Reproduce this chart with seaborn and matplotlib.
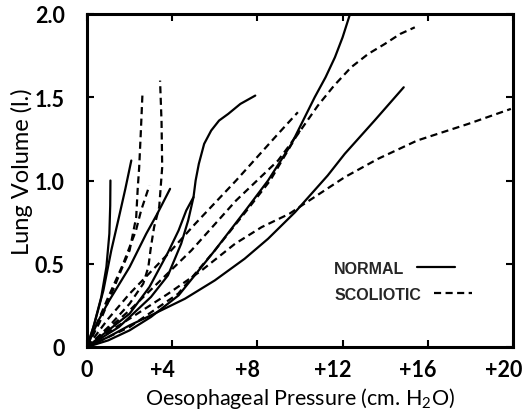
import matplotlib
matplotlib.use("Agg")
import matplotlib.pyplot as plt
from matplotlib.lines import Line2D
import matplotlib.transforms as mtransforms
import seaborn as sns
import pandas as pd

# ---- data: oesophageal pressure (cm H2O) vs lung volume (l.) ----
# Normal subjects (solid)
n1_p = [0, 0.3, 0.67, 0.91, 1.05, 1.09, 1.1]
n1_v = [0, 0.12, 0.30, 0.48, 0.68, 0.85, 1.0]
n2_p = [0, 0.35, 0.77, 1.14, 1.5, 1.8, 2.08]
n2_v = [0, 0.14, 0.34, 0.58, 0.78, 0.95, 1.12]
n3_p = [0, 0.5, 1.0, 2.0, 2.78, 3.3, 3.9]
n3_v = [0, 0.15, 0.27, 0.48, 0.68, 0.80, 0.95]
n4_p = [0, 1.0, 2.0, 2.93, 3.81, 4.3, 4.66, 5.0]
n4_v = [0, 0.10, 0.20, 0.36, 0.57, 0.70, 0.82, 0.90]
n5_p = [0, 1.5, 3.0, 3.8, 4.42, 4.75, 5.0, 5.1, 5.25, 5.5, 5.83, 6.2, 6.63, 7.2, 7.9]
n5_v = [0, 0.12, 0.30, 0.43, 0.62, 0.76, 0.90, 1.0, 1.1, 1.22, 1.30, 1.36, 1.40, 1.46, 1.51]
n6_p = [0, 1.0, 2.0, 3.0, 4.3, 6.0, 7.5, 8.5, 9.6, 10.69, 11.2, 11.64, 12.0, 12.35]
n6_v = [0, 0.04, 0.10, 0.18, 0.31, 0.58, 0.83, 1.0, 1.22, 1.50, 1.62, 1.74, 1.86, 2.0]
n7_p = [0, 1.0, 2.0, 3.0, 4.6, 6.0, 7.4, 8.5, 9.77, 11.3, 12.1, 13.5, 14.87]
n7_v = [0, 0.06, 0.13, 0.19, 0.29, 0.40, 0.53, 0.65, 0.81, 1.03, 1.16, 1.36, 1.56]

# Scoliotic patients (dashed)
s1_p = [0, 0.6, 1.28, 1.6, 2.0, 2.31, 2.38, 2.45, 2.53, 2.6]
s1_v = [0, 0.15, 0.36, 0.46, 0.58, 0.78, 0.95, 1.08, 1.30, 1.51]
s2_p = [0, 1.0, 2.0, 2.64, 2.88, 3.0, 3.15, 3.39, 3.53, 3.5, 3.43]
s2_v = [0, 0.12, 0.26, 0.38, 0.48, 0.60, 0.72, 0.84, 1.08, 1.35, 1.60]
s3_p = [0, 1.0, 1.7, 2.3, 2.54, 2.93]
s3_v = [0, 0.30, 0.50, 0.70, 0.82, 0.97]
s4_p = [0, 1.0, 2.0, 3.81, 5.08, 7.0, 8.97, 9.9]
s4_v = [0, 0.17, 0.32, 0.56, 0.74, 1.0, 1.28, 1.41]
s5_p = [0, 2.0, 4.9, 7.0, 8.97, 9.44, 10.0]
s5_v = [0, 0.22, 0.58, 0.88, 1.12, 1.20, 1.30]
s6_p = [0, 2.0, 4.28, 6.0, 7.5, 8.6, 9.8, 10.84, 11.6, 12.4, 13.2, 13.98, 14.7, 15.39]
s6_v = [0, 0.12, 0.32, 0.58, 0.82, 1.0, 1.26, 1.45, 1.57, 1.68, 1.76, 1.82, 1.88, 1.92]
s7_p = [0, 1.0, 2.0, 3.81, 5.38, 6.95, 8.2, 9.5, 10.2, 12.1, 13.66, 15.5, 17.9, 19.9]
s7_v = [0, 0.09, 0.17, 0.32, 0.46, 0.62, 0.72, 0.80, 0.86, 1.02, 1.13, 1.24, 1.34, 1.43]

x_ticks = [0, 4, 8, 12, 16, 20]
x_tick_labels = ["0", "+4", "+8", "+12", "+16", "+20"]
y_ticks = [0, 0.5, 1.0, 1.5, 2.0]
y_tick_labels = ["0", "0.5", "1.0", "1.5", "2.0"]
group_labels = ["NORMAL", "SCOLIOTIC"]

normal_curves = [(n1_p, n1_v), (n2_p, n2_v), (n3_p, n3_v), (n4_p, n4_v),
                 (n5_p, n5_v), (n6_p, n6_v), (n7_p, n7_v)]
scol_curves = [(s1_p, s1_v), (s2_p, s2_v), (s3_p, s3_v), (s4_p, s4_v),
               (s5_p, s5_v), (s6_p, s6_v), (s7_p, s7_v)]

rows = []
for i, (p, v) in enumerate(normal_curves):
    for a, b in zip(p, v):
        rows.append(dict(curve=f"N{i}", group="NORMAL", pressure=a, volume=b))
for i, (p, v) in enumerate(scol_curves):
    for a, b in zip(p, v):
        rows.append(dict(curve=f"S{i}", group="SCOLIOTIC", pressure=a, volume=b))
df = pd.DataFrame(rows)

sns.set_theme(style="ticks")
plt.rcParams["font.family"] = ["Lato", "DejaVu Sans"]
plt.rcParams["mathtext.fontset"] = "custom"
plt.rcParams["mathtext.rm"] = "Lato"

fig = plt.figure(figsize=(5.28, 4.10), dpi=100)
ax = fig.add_axes([87 / 528, 62 / 410, 426 / 528, 333 / 410])

dash_pat = (3.2, 2.0)
sns.lineplot(data=df, x="pressure", y="volume", units="curve", style="group",
             estimator=None, sort=False, color="black", lw=1.6,
             dashes={"NORMAL": "", "SCOLIOTIC": dash_pat}, legend=False, ax=ax)

ax.set_xlim(0, 20)
ax.set_ylim(0, 2.0)
ax.set_xticks(x_ticks)
ax.set_xticklabels(x_tick_labels, fontsize=15.5, fontweight="bold")
ax.set_yticks(y_ticks)
ax.set_yticklabels(y_tick_labels, fontsize=15.5, fontweight="bold")
ax.tick_params(direction="in", length=5, width=1.5, top=True, right=True,
               color="black", labelcolor="black")
ax.tick_params(axis="x", pad=9)
ax.tick_params(axis="y", pad=16)
# the leading "+" hangs to the left of the tick, digits centred on it
for lab in ax.get_xticklabels():
    if lab.get_text().startswith("+"):
        lab.set_transform(lab.get_transform() +
                          mtransforms.ScaledTranslation(-7 / 72, 0, fig.dpi_scale_trans))
for s in ax.spines.values():
    s.set_linewidth(2.2)
    s.set_color("black")
    s.set_visible(True)

ax.set_xlabel("Oesophageal Pressure (cm. H$_\\mathregular{2}$O)", fontsize=15.5,
              color="black", labelpad=3)
ax.set_ylabel("Lung Volume (l.)", fontsize=17, color="black")
ax.yaxis.set_label_coords(-0.127, 0.53)

handles = [Line2D([], [], color="black", lw=1.6),
           Line2D([], [], color="black", lw=1.6, dashes=dash_pat)]
leg = ax.legend(handles, group_labels, loc="upper left",
                bbox_to_anchor=(0.58, 0.259), frameon=False, markerfirst=False,
                handlelength=2.4, handletextpad=0.8, labelspacing=0.7,
                borderpad=0, borderaxespad=0,
                prop={"family": ["Liberation Sans", "DejaVu Sans"],
                      "weight": "bold", "size": 11.5})
# left-align the rows so each sample sits right after its own label
for col in leg._legend_handle_box.get_children():
    col.align = "left"

fig.savefig("out.png", dpi=100, facecolor="white")
